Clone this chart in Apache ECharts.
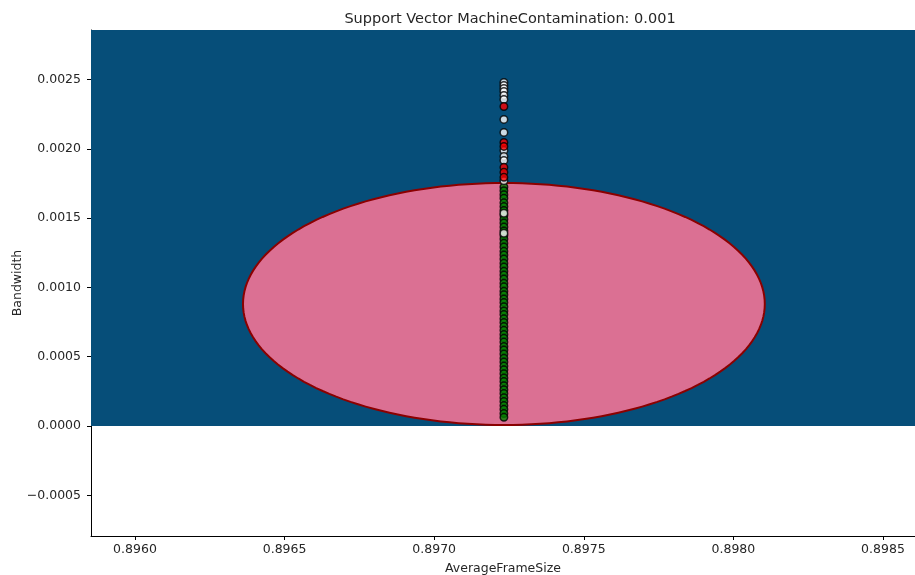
<!DOCTYPE html>
<html>
<head>
<meta charset="utf-8">
<script src="https://cdn.jsdelivr.net/npm/echarts@6/dist/echarts.min.js"></script>
<style>
  html, body { margin: 0; padding: 0; background: #fff; }
  #chart { width: 915px; height: 575px; }
</style>
</head>
<body>
<div id="chart"></div>
<script>
// Axis ranges and tick labels
const xRange = [0.895853, 0.898607];
const yRange = [-0.000794, 0.002857];
const xTicks = [0.8960, 0.8965, 0.8970, 0.8975, 0.8980, 0.8985];
const yTicks = [-0.0005, 0.0000, 0.0005, 0.0010, 0.0015, 0.0020, 0.0025];

// Decision regions: the background band (y >= 0) and the inlier ellipse
const bandBounds = [xRange[0], 0, xRange[1], yRange[1]];
const ellipseCenter = [0.897233, 0.000880];
const ellipseRadii = [0.000872, 0.000873];

// Every sample shares the same AverageFrameSize
const frameSize = 0.897233;

// Bandwidth of training samples (white)
const trainBandwidth = [
  0.002478, 0.002457, 0.002435, 0.002414, 0.002385, 0.002356,
  0.002212, 0.002118, 0.001988, 0.001945, 0.001916, 0.001770,
  0.001535, 0.001390
];

// Bandwidth of regular test samples (green)
const regularBandwidth = [
  0.001724, 0.001698, 0.001669, 0.001643, 0.001610, 0.001583, 0.001555,
  0.001521, 0.001492, 0.001465, 0.001436, 0.001407, 0.001376, 0.001349,
  0.001318, 0.001291, 0.001260, 0.001234, 0.001205, 0.001174, 0.001147,
  0.001116, 0.001090, 0.001061, 0.001030, 0.001004, 0.000972, 0.000947,
  0.000916, 0.000890, 0.000861, 0.000830, 0.000805, 0.000773, 0.000747,
  0.000717, 0.000690, 0.000660, 0.000633, 0.000605, 0.000574, 0.000548,
  0.000519, 0.000489, 0.000462, 0.000432, 0.000405, 0.000377, 0.000346,
  0.000320, 0.000291, 0.000261, 0.000234, 0.000204, 0.000177, 0.000147,
  0.000120, 0.000090, 0.000063
];

// Bandwidth of abnormal samples (red)
const abnormalBandwidth = [0.002305, 0.002046, 0.002017, 0.001866, 0.001830, 0.001794];

const textColor = '#262626';
const fontFamily = 'DejaVu Sans';

function fmtTick(v) {
  const s = Math.abs(v).toFixed(4);
  return v < -1e-12 ? '\u2212' + s : s;
}

const chart = echarts.init(document.getElementById('chart'), null, { renderer: 'canvas' });

const pointStyle = (fill) => ({ color: fill, borderColor: '#000', borderWidth: 1.5 });

chart.setOption({
  animation: false,
  backgroundColor: '#ffffff',
  textStyle: { fontFamily: fontFamily },
  title: {
    text: 'Support Vector MachineContamination: 0.001',
    left: 505, top: 7, textAlign: 'center',
    textStyle: { fontSize: 14.5, fontWeight: 'normal', color: textColor, fontFamily: fontFamily }
  },
  grid: { left: 91, top: 30, right: 0, bottom: 39, containLabel: false, outerBoundsMode: 'none' },
  xAxis: {
    type: 'value', min: xRange[0], max: xRange[1],
    name: 'AverageFrameSize', nameLocation: 'middle', nameGap: 26, nameMoveOverlap: false,
    nameTextStyle: { fontSize: 12.5, color: textColor, fontFamily: fontFamily },
    axisLine: { show: true, onZero: false, lineStyle: { color: '#000', width: 1 } },
    axisTick: { show: true, length: 4, lineStyle: { color: '#000' }, customValues: xTicks },
    axisLabel: {
      customValues: xTicks, margin: 7, fontSize: 12.5, color: textColor, fontFamily: fontFamily,
      formatter: (v) => fmtTick(v)
    },
    splitLine: { show: false }
  },
  yAxis: {
    type: 'value', min: yRange[0], max: yRange[1],
    name: 'Bandwidth', nameLocation: 'middle', nameGap: 67, nameRotate: 90, nameMoveOverlap: false,
    nameTextStyle: { fontSize: 12.5, color: textColor, fontFamily: fontFamily },
    axisLine: { show: true, onZero: false, lineStyle: { color: '#000', width: 1 } },
    axisTick: { show: true, length: 4, lineStyle: { color: '#000' }, customValues: yTicks },
    axisLabel: {
      customValues: yTicks, margin: 10, fontSize: 12.5, color: textColor, fontFamily: fontFamily,
      formatter: (v) => fmtTick(v)
    },
    splitLine: { show: false }
  },
  series: [
    {
      // background band of the decision function
      type: 'custom', z: 1, clip: true, silent: true,
      data: [bandBounds],
      renderItem: (params, api) => {
        const p0 = api.coord([api.value(0), api.value(3)]);
        const p1 = api.coord([api.value(2), api.value(1)]);
        return {
          type: 'rect',
          shape: { x: p0[0], y: p0[1], width: p1[0] - p0[0], height: p1[1] - p0[1] },
          style: { fill: '#064e79' }
        };
      }
    },
    {
      // inlier region bounded by the decision frontier
      type: 'custom', z: 2, clip: true, silent: true,
      data: [[ellipseCenter[0], ellipseCenter[1], ellipseRadii[0], ellipseRadii[1]]],
      renderItem: (params, api) => {
        const cx = api.value(0), cy = api.value(1), rx = api.value(2), ry = api.value(3);
        const pts = [];
        for (let i = 0; i < 180; i++) {
          const t = (i / 180) * Math.PI * 2;
          pts.push(api.coord([cx + rx * Math.cos(t), cy + ry * Math.sin(t)]));
        }
        return {
          type: 'polygon',
          shape: { points: pts },
          style: { fill: '#db7093', stroke: '#8b0000', lineWidth: 2 }
        };
      }
    },
    {
      name: 'regular', type: 'scatter', z: 3, symbol: 'circle', symbolSize: 7.5,
      itemStyle: pointStyle('#008000'),
      data: regularBandwidth.map(v => [frameSize, v])
    },
    {
      name: 'training', type: 'scatter', z: 4, symbol: 'circle', symbolSize: 7.5,
      itemStyle: pointStyle('#ffffff'),
      data: trainBandwidth.map(v => [frameSize, v])
    },
    {
      name: 'abnormal', type: 'scatter', z: 5, symbol: 'circle', symbolSize: 7.5,
      itemStyle: pointStyle('#ff0000'),
      data: abnormalBandwidth.map(v => [frameSize, v])
    }
  ]
});
</script>
</body>
</html>
